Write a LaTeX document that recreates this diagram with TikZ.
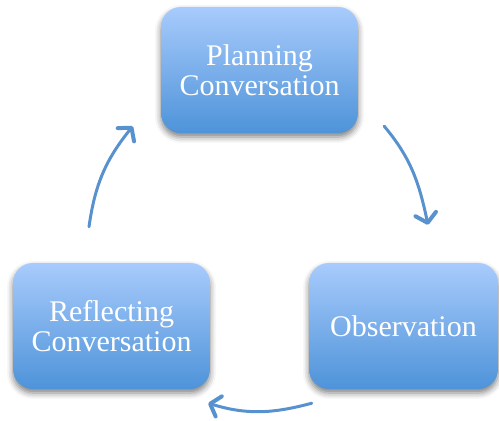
\documentclass[tikz,border=0pt]{standalone}
\usepackage{fontspec}
\setmainfont{Liberation Serif}
\usetikzlibrary{arrows.meta,calc,shadows.blur}
\definecolor{boxtop}{RGB}{168,203,252}
\definecolor{boxbottom}{RGB}{78,147,217}
\definecolor{giroblu}{RGB}{88,146,206}
\tikzset{
>={Straight Barb[round,length=9pt,width=21pt,line width=4pt]},
stage node/.style={rectangle,rounded corners=20pt,minimum height=126pt,
  top color=boxtop,bottom color=boxbottom,text=white,align=center,
  font=\fontsize{30}{30}\selectfont,
  blur shadow={shadow xshift=0pt,shadow yshift=-4pt,shadow blur radius=6pt,shadow opacity=50}},
giro/.style={->,line width=3pt,giroblu,line cap=round}}

\begin{document}
\begin{tikzpicture}[x=1pt,y=1pt]

\useasboundingbox (0,0) rectangle (499,421);
\node[stage node,minimum width=197pt] (1) at (259.5,351) {Planning\\Conversation};
\node[stage node,minimum width=189pt] (2) at (403.5,95) {Observation};
\node[stage node,minimum width=197pt] (3) at (111.5,95) {Reflecting\\Conversation};

\coordinate (1a) at ($(1.south east)+(26,7)$);
\coordinate (2a) at ($(2.north)+(24.5,38)$);
\coordinate (2b) at ($(2.south west)+(3,-14)$);
\coordinate (3a) at ($(3.south east)+(-2,-14)$);
\coordinate (3b) at ($(3.north)+(-22.5,36)$);
\coordinate (1b) at ($(1.south west)+(-28,7)$);

\draw[giro] (1a) to[out=-50,in=102] (2a);
\draw[giro] (2b) to[out=195,in=-17] (3a);
\draw[giro] (3b) to[out=82,in=231] (1b);

\end{tikzpicture}
\end{document}
